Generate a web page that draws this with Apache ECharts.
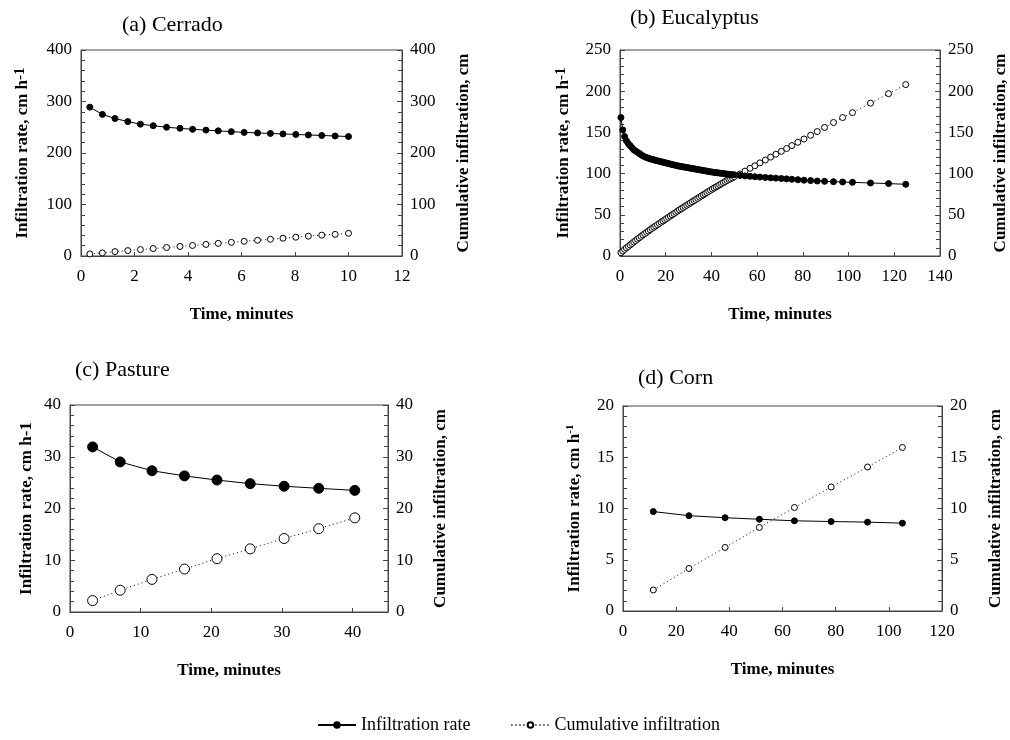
<!DOCTYPE html>
<html><head><meta charset="utf-8">
<script src="https://cdn.jsdelivr.net/npm/echarts@6/dist/echarts.min.js"></script>
<style>html,body{margin:0;padding:0;background:#fff}#c{width:1010px;height:740px}</style>
</head><body><div id="c"></div>
<script>
// ---- DATA ----
const panelTitles = ['(a) Cerrado', '(b) Eucalyptus', '(c) Pasture', '(d) Corn'];
const seriesNames = ['Infiltration rate', 'Cumulative infiltration'];

// (a) Cerrado
const timeA = [0.33, 0.8, 1.27, 1.75, 2.22, 2.7, 3.2, 3.7, 4.17, 4.67, 5.13, 5.62, 6.1, 6.6, 7.08, 7.55, 8.03, 8.5, 9.0, 9.5, 10.0];
const rateA = [289, 275, 267, 261, 256, 253, 250, 248, 246, 244.5, 243, 241.5, 240, 239, 238, 237, 236, 235, 234, 233, 232];
const cumA  = [4, 6, 8.5, 10.5, 12.5, 14.5, 16.5, 18.5, 20.5, 22.5, 24.5, 26.5, 28.5, 30.5, 32.5, 34.5, 36.5, 38.5, 40.5, 42, 44];

// (b) Eucalyptus
const timeB = [0.4,1.2,2.0,2.8,3.6,4.4,5.2,6.0,6.8,7.6,8.4,9.2,10.0,10.8,11.6,12.4,13.2,14.0,14.8,15.6,16.4,17.2,18.0,18.8,19.6,20.4,21.2,22.0,22.8,23.6,24.4,25.2,26.0,26.8,27.6,28.4,29.2,30.0,30.8,31.6,32.4,33.2,34.0,34.8,35.6,36.4,37.2,38.0,38.8,39.6,40.4,41.2,42.0,42.8,43.6,44.4,45.2,46.0,46.8,47.6,48.4,49.2,50.0,
  52.5,54.7,56.9,59.0,61.2,63.6,65.9,68.2,70.6,72.9,75.2,77.8,80.5,83.4,86.3,89.5,93.4,97.4,101.7,109.6,117.5,125.0];
const rateB = [168,153,145,140,136.5,134,131.5,129,127.5,126,124.5,123,121.5,120.5,119.5,118.6,118,117.3,116.7,116,115.5,115,114.4,113.9,113.3,112.7,112.2,111.6,111,110.5,110,109.4,109,108.6,108.2,107.8,107.4,107,106.6,106.2,105.8,105.4,105,104.6,104.2,103.8,103.4,103,102.6,102.2,101.8,101.5,101.2,100.9,100.6,100.3,100,99.7,99.4,99.1,98.9,98.7,98.5,
  97.8,97.2,96.7,96.2,95.8,95.3,94.9,94.5,94,93.6,93.1,92.6,92,91.5,91,90.6,90.2,89.8,89.4,88.6,87.9,87];
const cumB  = [4,6,8,9.8,11.6,13.4,15.2,17,18.7,20.4,22.1,23.8,25.5,27.1,28.7,30.3,31.9,33.5,35,36.5,38,39.5,41,42.5,44,45.5,47,48.5,50,51.5,53,54.5,56,57.4,58.8,60.2,61.6,63,64.4,65.8,67.2,68.6,70,71.4,72.8,74.2,75.6,77,78.4,79.8,81.2,82.5,83.8,85.1,86.4,87.7,89,90.3,91.6,92.9,93.8,95,96.2,
  99.5,103,106.5,109.5,113,116.5,120,123.5,127,130.5,134,138,142,146.5,151,156,162,168,174,185.5,197,208];

// (c) Pasture
const timeC = [3.2, 7.1, 11.6, 16.2, 20.8, 25.5, 30.3, 35.2, 40.3];
const rateC = [31.9, 29.0, 27.3, 26.3, 25.5, 24.8, 24.3, 23.9, 23.5];
const cumC  = [2.2, 4.2, 6.3, 8.3, 10.3, 12.2, 14.2, 16.1, 18.2];

// (d) Corn
const timeD = [11.4, 24.8, 38.4, 51.3, 64.5, 78.3, 92.0, 105.1];
const rateD = [9.7, 9.3, 9.1, 8.95, 8.8, 8.73, 8.67, 8.57];
const cumD  = [2.05, 4.15, 6.2, 8.15, 10.1, 12.1, 14.05, 15.95];

// axis tick settings per panel
const xMax = [12, 140, 45, 120];
const xStep = [2, 20, 10, 20];
const yMax = [400, 250, 40, 20];
const yStep = [100, 50, 10, 5];

// ---- CHART ----
const FONT = 'Liberation Serif';
const chart = echarts.init(document.getElementById('c'), null, {renderer: 'canvas'});

const grids = [
  {left: 81, top: 50, width: 321, height: 206},
  {left: 620, top: 50, width: 320, height: 206},
  {left: 70, top: 405, width: 318, height: 207},
  {left: 623, top: 406, width: 319, height: 205}
];
const titlePos = [{left: 122, top: 14}, {left: 630, top: 7}, {left: 75, top: 359}, {left: 638, top: 367}];
const leftGap = [48, 46, 33, 38];
const rightGap = [53, 52, 44, 45];
const leftNames = [
  '{b|Infiltration rate, cm h}{s|-1}',
  '{b|Infiltration rate, cm h}{s|-1}',
  '{b|Infiltration rate, cm h-1}',
  '{b|Infiltration rate, cm h}{t|-1}'
];
const AX = '#444';

const xAxes = [], yAxes = [], series = [];
const pairs = [[timeA, rateA, cumA], [timeB, rateB, cumB], [timeC, rateC, cumC], [timeD, rateD, cumD]];
const symSize = [6, 6, 10, 6];

for (let i = 0; i < 4; i++) {
  xAxes.push({
    type: 'value', gridIndex: i, min: 0, max: xMax[i], interval: xStep[i],
    name: 'Time, minutes', nameLocation: 'middle', nameGap: 50,
    nameTextStyle: {fontFamily: FONT, fontWeight: 'bold', fontSize: 17, color: '#000'},
    axisLine: {show: true, lineStyle: {color: AX, width: 1}},
    axisTick: {show: true, inside: true, length: 4, lineStyle: {color: AX}},
    axisLabel: {fontFamily: FONT, fontSize: 17, color: '#000', margin: 12, showMaxLabel: i !== 2},
    splitLine: {show: false}
  });
  const common = {
    type: 'value', gridIndex: i, min: 0, max: yMax[i], interval: yStep[i],
    axisLine: {show: true, lineStyle: {color: AX, width: 1}},
    axisTick: {show: true, inside: true, length: 5, lineStyle: {color: AX}},
    minorTick: {show: true, splitNumber: 5, length: 4, lineStyle: {color: AX, width: 1}},
    splitLine: {show: false},
    nameLocation: 'middle',
    nameTextStyle: {fontFamily: FONT, fontWeight: 'bold', fontSize: 17, color: '#000'}
  };
  yAxes.push(Object.assign({}, common, {
    position: 'left', name: leftNames[i], nameGap: leftGap[i],
    axisLabel: {fontFamily: FONT, fontSize: 17, color: '#000', margin: 9},
    nameTextStyle: {fontFamily: FONT, fontWeight: 'bold', fontSize: 17, color: '#000',
      rich: {
        b: {fontFamily: FONT, fontWeight: 'bold', fontSize: 17, color: '#000', lineHeight: 20},
        s: {fontFamily: FONT, fontWeight: 'bold', fontSize: 15, color: '#000', verticalAlign: 'top', lineHeight: 20},
        t: {fontFamily: FONT, fontWeight: 'bold', fontSize: 11, color: '#000', verticalAlign: 'top', lineHeight: 20}
      }}
  }));
  yAxes.push(Object.assign({}, common, {
    position: 'right', name: 'Cumulative infiltration, cm', nameGap: rightGap[i],
    axisLabel: {fontFamily: FONT, fontSize: 17, color: '#000', margin: 8}
  }));
  const [t, r, c] = pairs[i];
  series.push({
    name: seriesNames[0], type: 'line', xAxisIndex: i, yAxisIndex: 2 * i,
    data: t.map((x, k) => [x, r[k]]),
    symbol: 'circle', symbolSize: symSize[i], showSymbol: true,
    itemStyle: {color: '#000', borderColor: '#000', borderWidth: 1},
    lineStyle: {color: '#000', width: 1}, z: 3, silent: true
  });
  series.push({
    name: seriesNames[1], type: 'line', xAxisIndex: i, yAxisIndex: 2 * i + 1,
    data: t.map((x, k) => [x, c[k]]),
    symbol: 'circle', symbolSize: symSize[i], showSymbol: true,
    itemStyle: {color: '#fff', borderColor: '#000', borderWidth: 1},
    lineStyle: {color: '#000', width: 1, type: [1, 3]}, z: 2, silent: true
  });
}

chart.setOption({
  animation: false,
  backgroundColor: '#fff',
  title: panelTitles.map((txt, i) => ({
    text: txt, left: titlePos[i].left, top: titlePos[i].top, padding: 0,
    textStyle: {fontFamily: FONT, fontWeight: 'normal', fontSize: 22, color: '#000'}
  })),
  grid: grids.map(g => Object.assign({show: true, borderColor: AX, borderWidth: 1, backgroundColor: 'transparent'}, g)),
  xAxis: xAxes,
  yAxis: yAxes,
  legend: {
    data: seriesNames, left: 312, top: 711, itemGap: 40, itemWidth: 38, itemHeight: 7,
    textStyle: {fontFamily: FONT, fontSize: 18, color: '#000'}, selectedMode: false
  },
  series: series
});
</script></body></html>
